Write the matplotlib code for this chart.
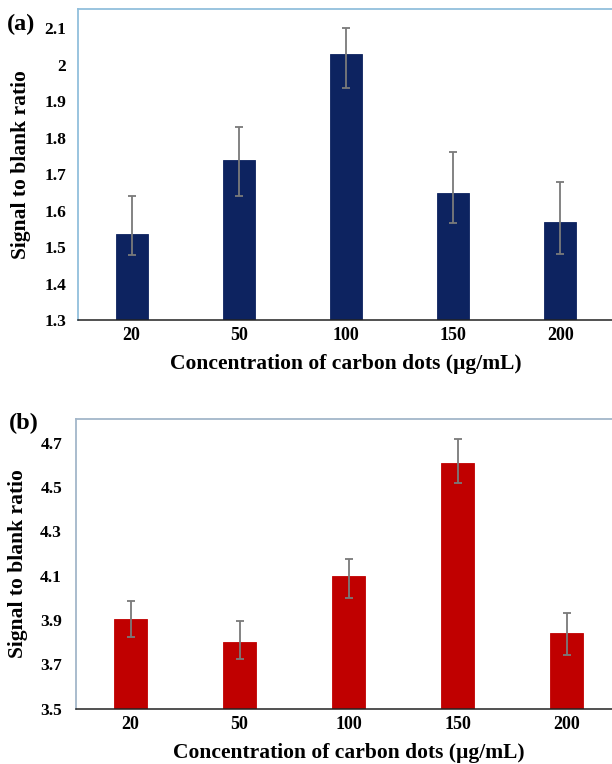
import matplotlib
matplotlib.use("Agg")
import matplotlib.pyplot as plt
import numpy as np

# Carbon-dot concentrations (µg/mL) on the category axis
concentrations = ["20", "50", "100", "150", "200"]

# Panel (a): signal to blank ratio with lower / upper error limits
ratio_a = [1.535, 1.738, 2.030, 1.649, 1.570]
low_a = [1.478, 1.640, 1.935, 1.565, 1.480]
high_a = [1.640, 1.830, 2.100, 1.760, 1.678]
yticks_a = [1.3, 1.4, 1.5, 1.6, 1.7, 1.8, 1.9, 2.0, 2.1]
yticklabels_a = ["1.3", "1.4", "1.5", "1.6", "1.7", "1.8", "1.9", "2", "2.1"]

# Panel (b): signal to blank ratio with lower / upper error limits
ratio_b = [3.903, 3.802, 4.097, 4.609, 3.840]
low_b = [3.822, 3.722, 4.000, 4.519, 3.742]
high_b = [3.987, 3.895, 4.176, 4.717, 3.930]
yticks_b = [3.5, 3.7, 3.9, 4.1, 4.3, 4.5, 4.7]
yticklabels_b = ["3.5", "3.7", "3.9", "4.1", "4.3", "4.5", "4.7"]

plt.rcParams["font.family"] = ["Liberation Serif", "DejaVu Serif"]
plt.rcParams["font.weight"] = "bold"

W, H = 612, 764
fig = plt.figure(figsize=(W / 100, H / 100), dpi=100)
fig.patch.set_facecolor("white")


def panel(rect, values, low, high, color, ylim, yticks, yticklabels,
          frame_color, ytick_pad, ylabel_x, xlabel_y):
    ax = fig.add_axes(rect)
    x = np.arange(len(concentrations))
    vals = np.array(values)
    yerr = np.vstack([vals - np.array(low), np.array(high) - vals])
    ax.bar(x, vals - ylim[0], bottom=ylim[0], width=0.30, color=color,
           edgecolor=color, linewidth=0.6, zorder=2)
    ax.errorbar(x, vals, yerr=yerr, fmt="none", ecolor="#7a7a7a",
                elinewidth=1.3, capsize=3.2, capthick=1.3, zorder=3)
    ax.set_xlim(-0.5, len(concentrations) - 0.5)
    ax.set_ylim(*ylim)
    ax.set_xticks(x)
    ax.set_xticklabels(concentrations, fontsize=13, fontweight="bold")
    ax.set_yticks(yticks)
    ax.set_yticklabels(yticklabels, fontsize=12.5, fontweight="bold")
    ax.tick_params(axis="both", length=0)
    ax.tick_params(axis="x", pad=5)
    ax.tick_params(axis="y", pad=ytick_pad)
    ax.spines["right"].set_visible(False)
    for s in ("left", "top"):
        ax.spines[s].set_color(frame_color)
        ax.spines[s].set_linewidth(1.3)
    ax.spines["bottom"].set_color("#222222")
    ax.spines["bottom"].set_linewidth(1.1)
    ax.set_ylabel("Signal to blank ratio", fontsize=15.5, fontweight="bold")
    ax.yaxis.set_label_coords(ylabel_x, 0.5)
    ax.yaxis.label.set_va("center")
    ax.set_xlabel("Concentration of carbon dots (µg/mL)", fontsize=15.5,
                  fontweight="bold")
    ax.xaxis.set_label_coords(0.5, xlabel_y)
    ax.xaxis.label.set_va("center")
    return ax


ax1 = panel([78 / W, 1 - 320 / H, 536 / W, 311 / H], ratio_a, low_a, high_a,
            "#0d2360", (1.3, 2.153), yticks_a, yticklabels_a, "#92bfdc",
            8.5, (21 - 78) / 536, -0.1415)
ax2 = panel([76 / W, 1 - 708.6 / H, 545 / W, 289.3 / H], ratio_b, low_b, high_b,
            "#c00000", (3.5, 4.805), yticks_b, yticklabels_b, "#a3b6c9",
            10, (18 - 76) / 545, -0.1535)

fig.text(7 / W, 1 - 24 / H, "(a)", fontsize=17.5, fontweight="bold",
         ha="left", va="center")
fig.text(9 / W, 1 - 423 / H, "(b)", fontsize=17.5, fontweight="bold",
         ha="left", va="center")

fig.savefig("out.png", dpi=100, facecolor="white")
